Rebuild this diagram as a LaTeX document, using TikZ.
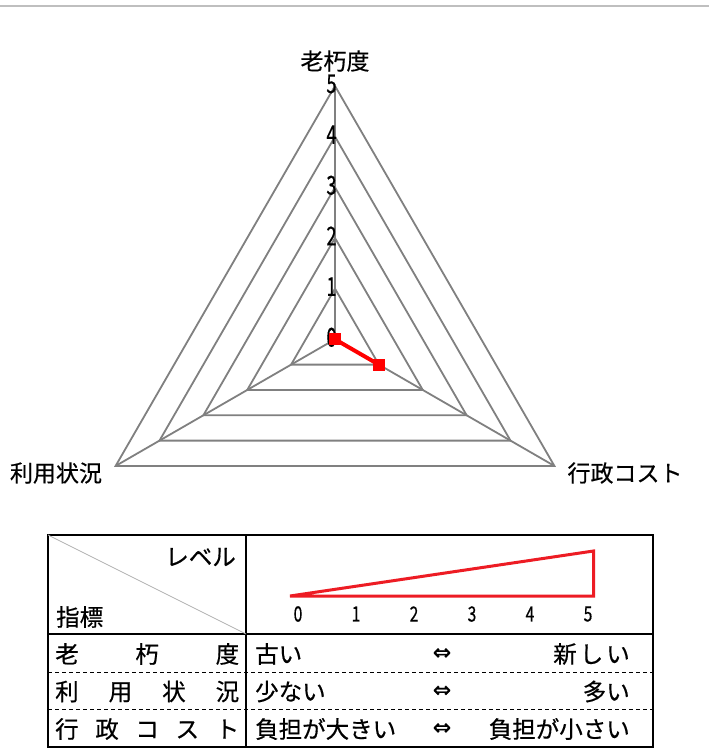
\documentclass[tikz,border=0pt]{standalone}
\usepackage{fontspec}
\setmainfont{Noto Sans CJK JP}[FakeBold=0.5]
\newfontfamily\symfont{DejaVu Sans}[FakeBold=0.5]
\begin{document}
\begin{tikzpicture}[x=1pt,y=-1pt,
  grid/.style={draw=black!50,line width=1.8pt},
  axlabel/.style={font=\fontsize{23}{23}\selectfont,inner sep=0pt},
  numlabel/.style={font=\fontsize{26}{26}\selectfont,inner sep=0pt},
  datapt/.style={fill=red,minimum size=12pt,inner sep=0pt,draw=none},
  dataline/.style={draw=red,line width=4pt},
  cell/.style={font=\fontsize{23.5}{23.5}\selectfont,inner sep=0pt},
  tick/.style={font=\fontsize{21}{21}\selectfont,inner sep=0pt},
  wedge/.style={draw={rgb,255:red,237;green,28;blue,36},line width=3pt,line join=miter},
  frame/.style={draw=black,line width=1.3pt},
  sep/.style={draw=black,line width=1pt,dash pattern=on 4pt off 3pt}]
\useasboundingbox (0,0) rectangle (709,756);
\fill[white] (0,0) rectangle (709,756);
% top rule
\coordinate (rl) at (0,6);
\coordinate (rr) at (709,6);
\draw[draw=black!25,line width=1.5pt] (rl) -- (rr);
% radar geometry
\coordinate (c) at (335,339.3);
\foreach \k in {0,...,5}{
  \coordinate (t\k) at (335,{339.3-50.67*\k});
  \coordinate (l\k) at ({335-43.88*\k},{339.3+25.33*\k});
  \coordinate (r\k) at ({335+43.88*\k},{339.3+25.33*\k});
}
\foreach \k in {1,...,5}{
  \draw[grid] (t\k) -- (r\k) -- (l\k) -- cycle;
}
\draw[grid] (c) -- (t5);
\draw[grid] (c) -- (l5);
\draw[grid] (c) -- (r5);
% level numbers
\foreach \k in {0,...,5}{
  \node[numlabel] (n\k) at ([xshift=-3.5pt,yshift=2pt]t\k) {\scalebox{0.7}[1]{\k}};
}
% axis labels
\node[axlabel] (a1) at (335,61) {老朽度};
\node[axlabel] (a2) at (56,473) {利用状況};
\node[axlabel] (a3) at (625,473) {行政コスト};
% data
\draw[dataline] (c) -- (r1);
\node[datapt] (p1) at (t0) {};
\node[datapt] (p2) at (l0) {};
\node[datapt] (p3) at (r1) {};
% table
\coordinate (tl) at (48,535);
\coordinate (br) at (653,747);
\draw[frame] (tl) rectangle (br);
\coordinate (vt) at (246,535);
\coordinate (vb) at (246,747);
\draw[frame] (vt) -- (vb);
\coordinate (hl) at (48,634);
\coordinate (hr) at (653,634);
\draw[frame] (hl) -- (hr);
\coordinate (d1l) at (48,672);
\coordinate (d1r) at (653,672);
\coordinate (d2l) at (48,709.5);
\coordinate (d2r) at (653,709.5);
\draw[sep] (d1l) -- (d1r);
\draw[sep] (d2l) -- (d2r);
\coordinate (hc) at (246,634);
\draw[draw=black!30,line width=0.7pt] (tl) -- (hc);
\node[cell,anchor=east] (lv) at (236,557) {レベル};
\node[cell,anchor=west] (ix) at (56,617) {指標};
% wedge
\coordinate (w0) at (290,596);
\coordinate (w1) at (593.5,596);
\coordinate (w2) at (593.5,551);
\draw[wedge] (w0) -- (w1) -- (w2) -- cycle;
\foreach \k/\x in {0/298,1/356,2/414,3/472,4/530,5/588}{
  \node[tick] (s\k) at (\x,614) {\scalebox{0.75}[1]{\k}};
}
% rows
\node[cell,anchor=west] (k1) at (55,654) {\hbox to 184pt{老\hfill 朽\hfill 度}};
\node[cell,anchor=west] (k2) at (55,691.5) {\hbox to 184pt{利\hfill 用\hfill 状\hfill 況}};
\node[cell,anchor=west] (k3) at (55,729) {\hbox to 184pt{行\hfill 政\hfill コ\hfill ス\hfill ト}};
\node[cell,anchor=west] (lo1) at (255,654) {古い};
\node[cell,anchor=west] (lo2) at (255,691.5) {少ない};
\node[cell,anchor=west] (lo3) at (255,729) {負担が大きい};
\node[cell] (m1) at (442,654) {\symfont\fontsize{22}{22}\selectfont ⇔};
\node[cell] (m2) at (442,691.5) {\symfont\fontsize{22}{22}\selectfont ⇔};
\node[cell] (m3) at (442,729) {\symfont\fontsize{22}{22}\selectfont ⇔};
\node[cell,anchor=east] (hi1) at (630,654) {新\hspace{3pt}し\hspace{3pt}い};
\node[cell,anchor=east] (hi2) at (630,691.5) {多い};
\node[cell,anchor=east] (hi3) at (630,729) {負担が小さい};
\end{tikzpicture}
\end{document}
